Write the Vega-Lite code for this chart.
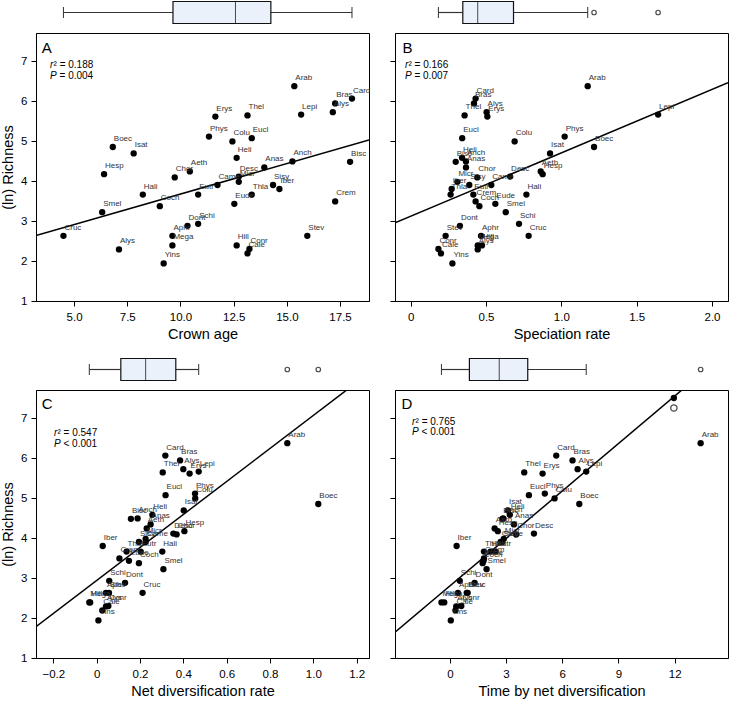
{
  "$schema": "https://vega.github.io/schema/vega-lite/v6.json",
  "padding": {"left": 0, "top": 0, "right": 0, "bottom": 0},
  "config": {
    "font": "Liberation Sans",
    "view": {"stroke": "#000", "strokeWidth": 1},
    "axis": {"grid": false, "domainColor": "#000", "tickColor": "#000", "tickSize": 5, "labelFontSize": 11.5, "labelColor": "#000", "titleFontSize": 14.5, "titleFontWeight": "normal", "titleColor": "#000", "labelPadding": 4},
    "axisX": {"labelPadding": 5, "titlePadding": 5},
    "axisY": {"titlePadding": 5}
  },
  "datasets": {
    "tribes": [
      {"tribe": "Arab", "richness": 6.37, "crown": 15.35, "spec": 1.175, "netdiv": 0.880, "tnd": 13.39},
      {"tribe": "Card", "richness": 6.06, "crown": 18.06, "spec": 0.431, "netdiv": 0.317, "tnd": 5.68},
      {"tribe": "Bras", "richness": 5.94, "crown": 17.27, "spec": 0.420, "netdiv": 0.385, "tnd": 6.55},
      {"tribe": "Alys", "richness": 5.72, "crown": 17.16, "spec": 0.504, "netdiv": 0.400, "tnd": 6.82},
      {"tribe": "Lepi", "richness": 5.66, "crown": 15.67, "spec": 1.642, "netdiv": 0.471, "tnd": 7.28},
      {"tribe": "Thel", "richness": 5.64, "crown": 13.15, "spec": 0.358, "netdiv": 0.305, "tnd": 3.97},
      {"tribe": "Erys", "richness": 5.61, "crown": 11.64, "spec": 0.509, "netdiv": 0.429, "tnd": 4.95},
      {"tribe": "Phys", "richness": 5.11, "crown": 11.34, "spec": 1.022, "netdiv": 0.454, "tnd": 5.07},
      {"tribe": "Eucl", "richness": 5.07, "crown": 13.35, "spec": 0.342, "netdiv": 0.318, "tnd": 4.22},
      {"tribe": "Colu", "richness": 4.99, "crown": 12.44, "spec": 0.690, "netdiv": 0.455, "tnd": 5.59},
      {"tribe": "Boec", "richness": 4.85, "crown": 6.82, "spec": 1.217, "netdiv": 1.023, "tnd": 6.91},
      {"tribe": "Isat", "richness": 4.69, "crown": 7.80, "spec": 0.925, "netdiv": 0.402, "tnd": 3.10},
      {"tribe": "Heli", "richness": 4.58, "crown": 12.64, "spec": 0.341, "netdiv": 0.257, "tnd": 3.20},
      {"tribe": "Anch", "richness": 4.49, "crown": 15.26, "spec": 0.367, "netdiv": 0.189, "tnd": 2.85},
      {"tribe": "Bisc", "richness": 4.48, "crown": 17.97, "spec": 0.299, "netdiv": 0.158, "tnd": 2.80},
      {"tribe": "Anas", "richness": 4.34, "crown": 13.94, "spec": 0.367, "netdiv": 0.249, "tnd": 3.42},
      {"tribe": "Aeth", "richness": 4.24, "crown": 10.44, "spec": 0.863, "netdiv": 0.231, "tnd": 2.39},
      {"tribe": "Hesp", "richness": 4.17, "crown": 6.41, "spec": 0.876, "netdiv": 0.405, "tnd": 2.56},
      {"tribe": "Desc", "richness": 4.11, "crown": 12.74, "spec": 0.660, "netdiv": 0.354, "tnd": 4.49},
      {"tribe": "Chor", "richness": 4.09, "crown": 9.73, "spec": 0.442, "netdiv": 0.369, "tnd": 3.54},
      {"tribe": "Micr", "richness": 3.98, "crown": 12.74, "spec": 0.310, "netdiv": 0.226, "tnd": 2.88},
      {"tribe": "Came", "richness": 3.90, "crown": 11.74, "spec": 0.535, "netdiv": 0.226, "tnd": 2.71},
      {"tribe": "Sisy", "richness": 3.90, "crown": 14.35, "spec": 0.389, "netdiv": 0.195, "tnd": 2.80},
      {"tribe": "Iber", "richness": 3.80, "crown": 14.65, "spec": 0.272, "netdiv": 0.028, "tnd": 0.36},
      {"tribe": "Hali", "richness": 3.66, "crown": 8.23, "spec": 0.768, "netdiv": 0.303, "tnd": 2.17},
      {"tribe": "Thla", "richness": 3.66, "crown": 13.35, "spec": 0.265, "netdiv": 0.138, "tnd": 1.82},
      {"tribe": "Eutr", "richness": 3.66, "crown": 10.83, "spec": 0.416, "netdiv": 0.203, "tnd": 2.44},
      {"tribe": "Crem", "richness": 3.49, "crown": 17.27, "spec": 0.431, "netdiv": 0.105, "tnd": 1.82},
      {"tribe": "Eude", "richness": 3.43, "crown": 12.53, "spec": 0.562, "netdiv": 0.149, "tnd": 1.80},
      {"tribe": "Coch", "richness": 3.37, "crown": 9.03, "spec": 0.456, "netdiv": 0.195, "tnd": 1.75},
      {"tribe": "Smel", "richness": 3.22, "crown": 6.32, "spec": 0.631, "netdiv": 0.308, "tnd": 1.96},
      {"tribe": "Schi", "richness": 2.93, "crown": 10.83, "spec": 0.719, "netdiv": 0.058, "tnd": 0.53},
      {"tribe": "Dont", "richness": 2.88, "crown": 10.33, "spec": 0.327, "netdiv": 0.131, "tnd": 1.32},
      {"tribe": "Aphr", "richness": 2.63, "crown": 9.62, "spec": 0.467, "netdiv": 0.043, "tnd": 0.43},
      {"tribe": "Stev", "richness": 2.63, "crown": 15.96, "spec": 0.232, "netdiv": 0.057, "tnd": 0.90},
      {"tribe": "Cruc", "richness": 2.63, "crown": 4.50, "spec": 0.783, "netdiv": 0.212, "tnd": 0.95},
      {"tribe": "Mega", "richness": 2.39, "crown": 9.62, "spec": 0.445, "netdiv": -0.034, "tnd": -0.45},
      {"tribe": "Hill", "richness": 2.39, "crown": 12.64, "spec": 0.473, "netdiv": -0.030, "tnd": -0.30},
      {"tribe": "Conr", "richness": 2.30, "crown": 13.24, "spec": 0.184, "netdiv": 0.054, "tnd": 0.61},
      {"tribe": "Alys", "richness": 2.29, "crown": 7.11, "spec": 0.445, "netdiv": 0.043, "tnd": 0.34},
      {"tribe": "Cale", "richness": 2.19, "crown": 13.15, "spec": 0.201, "netdiv": 0.026, "tnd": 0.30},
      {"tribe": "Yins", "richness": 1.94, "crown": 9.21, "spec": 0.277, "netdiv": 0.008, "tnd": 0.05}
    ]
  },
  "spacing": 18,
  "hconcat": [
    {
      "spacing": 15,
      "vconcat": [
        {
          "spacing": 9, "bounds": "flush",
          "vconcat": [
            {
              "width": 333, "height": 23, "view": {"stroke": null},
              "data": {"name": "tribes"},
              "mark": {"type": "boxplot", "extent": 1.5, "size": 22, "color": "#eaf1fb", "box": {"stroke": "#111", "strokeWidth": 1.2}, "median": {"color": "#000", "strokeWidth": 2}, "rule": {"color": "#333", "strokeWidth": 1.2}, "ticks": {"color": "#333", "size": 11, "strokeWidth": 1.2}, "outliers": {"filled": false, "color": "#000", "size": 20, "strokeWidth": 1.2}},
              "encoding": {"x": {"field": "crown", "type": "quantitative", "scale": {"domain": [3.21, 18.86], "nice": false, "zero": false}, "axis": null}}
            },
            {
              "width": 333, "height": 268,
              "data": {"name": "tribes"},
              "encoding": {
                "x": {"field": "crown", "type": "quantitative", "title": "Crown age", "scale": {"domain": [3.21, 18.86], "nice": false, "zero": false}, "axis": {"values": [5, 7.5, 10, 12.5, 15, 17.5], "format": ".1f"}},
                "y": {"field": "richness", "type": "quantitative", "title": "(ln) Richness", "scale": {"domain": [1, 7.7], "nice": false, "zero": false}, "axis": {"values": [1, 2, 3, 4, 5, 6, 7], "format": "d"}}
              },
              "layer": [
                {"transform": [{"regression": "richness", "on": "crown", "extent": [3.21, 18.86]}], "mark": {"type": "line", "color": "#000", "strokeWidth": 1.5, "clip": true}},
                {"mark": {"type": "circle", "size": 40, "color": "#000", "opacity": 1}},
                {"mark": {"type": "text", "align": "left", "baseline": "middle", "dx": 1, "dy": -8, "fontSize": 8, "color": "#333"}, "encoding": {"text": {"field": "tribe"}}},
                {"data": {"values": [{"crown": 3.48, "richness": 7.33}]}, "mark": {"type": "text", "text": "A", "fontSize": 15, "align": "left", "baseline": "middle", "color": "#000"}},
                {"data": {"values": [{"crown": 3.87, "richness": 6.91}]}, "mark": {"type": "text", "text": "r", "fontStyle": "italic", "fontSize": 10, "align": "left", "baseline": "middle", "color": "#000"}},
                {"data": {"values": [{"crown": 3.87, "richness": 6.91}]}, "mark": {"type": "text", "text": "² = 0.188", "fontSize": 10, "align": "left", "baseline": "middle", "dx": 3.5, "color": "#000"}},
                {"data": {"values": [{"crown": 3.87, "richness": 6.625}]}, "mark": {"type": "text", "text": "P", "fontStyle": "italic", "fontSize": 10, "align": "left", "baseline": "middle", "color": "#000"}},
                {"data": {"values": [{"crown": 3.87, "richness": 6.625}]}, "mark": {"type": "text", "text": "= 0.004", "fontSize": 10, "align": "left", "baseline": "middle", "dx": 9.5, "color": "#000"}}
              ]
            }
          ]
        },
        {
          "spacing": 9, "bounds": "flush",
          "vconcat": [
            {
              "width": 333, "height": 23, "view": {"stroke": null},
              "data": {"name": "tribes"},
              "mark": {"type": "boxplot", "extent": 1.5, "size": 22, "color": "#eaf1fb", "box": {"stroke": "#111", "strokeWidth": 1.2}, "median": {"color": "#000", "strokeWidth": 2}, "rule": {"color": "#333", "strokeWidth": 1.2}, "ticks": {"color": "#333", "size": 11, "strokeWidth": 1.2}, "outliers": {"filled": false, "color": "#000", "size": 20, "strokeWidth": 1.2}},
              "encoding": {"x": {"field": "netdiv", "type": "quantitative", "scale": {"domain": [-0.28, 1.257], "nice": false, "zero": false}, "axis": null}}
            },
            {
              "width": 333, "height": 268,
              "data": {"name": "tribes"},
              "encoding": {
                "x": {"field": "netdiv", "type": "quantitative", "title": "Net diversification rate", "scale": {"domain": [-0.28, 1.257], "nice": false, "zero": false}, "axis": {"values": [-0.2, 0, 0.2, 0.4, 0.6, 0.8, 1, 1.2], "labelExpr": "datum.value == 0 ? '0' : format(datum.value, '.1f')"}},
                "y": {"field": "richness", "type": "quantitative", "title": "(ln) Richness", "scale": {"domain": [1, 7.7], "nice": false, "zero": false}, "axis": {"values": [1, 2, 3, 4, 5, 6, 7], "format": "d"}}
              },
              "layer": [
                {"transform": [{"regression": "richness", "on": "netdiv", "extent": [-0.28, 1.257]}], "mark": {"type": "line", "color": "#000", "strokeWidth": 1.5, "clip": true}},
                {"mark": {"type": "circle", "size": 40, "color": "#000", "opacity": 1}},
                {"mark": {"type": "text", "align": "left", "baseline": "middle", "dx": 1, "dy": -8, "fontSize": 8, "color": "#333"}, "encoding": {"text": {"field": "tribe"}}},
                {"data": {"values": [{"netdiv": -0.254, "richness": 7.35}]}, "mark": {"type": "text", "text": "C", "fontSize": 15, "align": "left", "baseline": "middle", "color": "#000"}},
                {"data": {"values": [{"netdiv": -0.197, "richness": 6.625}]}, "mark": {"type": "text", "text": "r", "fontStyle": "italic", "fontSize": 10, "align": "left", "baseline": "middle", "color": "#000"}},
                {"data": {"values": [{"netdiv": -0.197, "richness": 6.625}]}, "mark": {"type": "text", "text": "² = 0.547", "fontSize": 10, "align": "left", "baseline": "middle", "dx": 3.5, "color": "#000"}},
                {"data": {"values": [{"netdiv": -0.197, "richness": 6.36}]}, "mark": {"type": "text", "text": "P", "fontStyle": "italic", "fontSize": 10, "align": "left", "baseline": "middle", "color": "#000"}},
                {"data": {"values": [{"netdiv": -0.197, "richness": 6.36}]}, "mark": {"type": "text", "text": "< 0.001", "fontSize": 10, "align": "left", "baseline": "middle", "dx": 9.5, "color": "#000"}}
              ]
            }
          ]
        }
      ]
    },
    {
      "spacing": 15,
      "vconcat": [
        {
          "spacing": 9, "bounds": "flush",
          "vconcat": [
            {
              "width": 333, "height": 23, "view": {"stroke": null},
              "data": {"name": "tribes"},
              "mark": {"type": "boxplot", "extent": 1.5, "size": 22, "color": "#eaf1fb", "box": {"stroke": "#111", "strokeWidth": 1.2}, "median": {"color": "#000", "strokeWidth": 2}, "rule": {"color": "#333", "strokeWidth": 1.2}, "ticks": {"color": "#333", "size": 11, "strokeWidth": 1.2}, "outliers": {"filled": false, "color": "#000", "size": 20, "strokeWidth": 1.2}},
              "encoding": {"x": {"field": "spec", "type": "quantitative", "scale": {"domain": [-0.104, 2.106], "nice": false, "zero": false}, "axis": null}}
            },
            {
              "width": 333, "height": 268,
              "data": {"name": "tribes"},
              "encoding": {
                "x": {"field": "spec", "type": "quantitative", "title": "Speciation rate", "scale": {"domain": [-0.104, 2.106], "nice": false, "zero": false}, "axis": {"values": [0, 0.5, 1, 1.5, 2], "labelExpr": "datum.value == 0 ? '0' : format(datum.value, '.1f')"}},
                "y": {"field": "richness", "type": "quantitative", "title": null, "scale": {"domain": [1, 7.7], "nice": false, "zero": false}, "axis": {"values": [1, 2, 3, 4, 5, 6, 7], "labels": false}}
              },
              "layer": [
                {"transform": [{"regression": "richness", "on": "spec", "extent": [-0.104, 2.106]}], "mark": {"type": "line", "color": "#000", "strokeWidth": 1.5, "clip": true}},
                {"mark": {"type": "circle", "size": 40, "color": "#000", "opacity": 1}},
                {"mark": {"type": "text", "align": "left", "baseline": "middle", "dx": 1, "dy": -8, "fontSize": 8, "color": "#333"}, "encoding": {"text": {"field": "tribe"}}},
                {"data": {"values": [{"spec": -0.055, "richness": 7.33}]}, "mark": {"type": "text", "text": "B", "fontSize": 15, "align": "left", "baseline": "middle", "color": "#000"}},
                {"data": {"values": [{"spec": -0.038, "richness": 6.91}]}, "mark": {"type": "text", "text": "r", "fontStyle": "italic", "fontSize": 10, "align": "left", "baseline": "middle", "color": "#000"}},
                {"data": {"values": [{"spec": -0.038, "richness": 6.91}]}, "mark": {"type": "text", "text": "² = 0.166", "fontSize": 10, "align": "left", "baseline": "middle", "dx": 3.5, "color": "#000"}},
                {"data": {"values": [{"spec": -0.038, "richness": 6.625}]}, "mark": {"type": "text", "text": "P", "fontStyle": "italic", "fontSize": 10, "align": "left", "baseline": "middle", "color": "#000"}},
                {"data": {"values": [{"spec": -0.038, "richness": 6.625}]}, "mark": {"type": "text", "text": "= 0.007", "fontSize": 10, "align": "left", "baseline": "middle", "dx": 9.5, "color": "#000"}}
              ]
            }
          ]
        },
        {
          "spacing": 9, "bounds": "flush",
          "vconcat": [
            {
              "width": 333, "height": 23, "view": {"stroke": null},
              "data": {"name": "tribes"},
              "mark": {"type": "boxplot", "extent": 1.5, "size": 22, "color": "#eaf1fb", "box": {"stroke": "#111", "strokeWidth": 1.2}, "median": {"color": "#000", "strokeWidth": 2}, "rule": {"color": "#333", "strokeWidth": 1.2}, "ticks": {"color": "#333", "size": 11, "strokeWidth": 1.2}, "outliers": {"filled": false, "color": "#000", "size": 20, "strokeWidth": 1.2}},
              "encoding": {"x": {"field": "tnd", "type": "quantitative", "scale": {"domain": [-2.93, 14.85], "nice": false, "zero": false}, "axis": null}}
            },
            {
              "width": 333, "height": 268,
              "data": {"name": "tribes"},
              "encoding": {
                "x": {"field": "tnd", "type": "quantitative", "title": "Time by net diversification", "scale": {"domain": [-2.93, 14.85], "nice": false, "zero": false}, "axis": {"values": [0, 3, 6, 9, 12], "format": "d"}},
                "y": {"field": "richness", "type": "quantitative", "title": null, "scale": {"domain": [1, 7.7], "nice": false, "zero": false}, "axis": {"values": [1, 2, 3, 4, 5, 6, 7], "labels": false}}
              },
              "layer": [
                {"transform": [{"regression": "richness", "on": "tnd", "extent": [-2.93, 14.85]}], "mark": {"type": "line", "color": "#000", "strokeWidth": 1.5, "clip": true}},
                {"mark": {"type": "circle", "size": 40, "color": "#000", "opacity": 1}},
                {"mark": {"type": "text", "align": "left", "baseline": "middle", "dx": 1, "dy": -8, "fontSize": 8, "color": "#333"}, "encoding": {"text": {"field": "tribe"}}},
                {"data": {"values": [{"tnd": 11.96, "richness": 7.5}]}, "mark": {"type": "circle", "size": 40, "color": "#000", "opacity": 1}},
                {"data": {"values": [{"tnd": 11.96, "richness": 7.25}]}, "mark": {"type": "point", "shape": "circle", "filled": false, "size": 40, "color": "#000", "strokeWidth": 1.3}},
                {"data": {"values": [{"tnd": -2.58, "richness": 7.35}]}, "mark": {"type": "text", "text": "D", "fontSize": 15, "align": "left", "baseline": "middle", "color": "#000"}},
                {"data": {"values": [{"tnd": -2.02, "richness": 6.9}]}, "mark": {"type": "text", "text": "r", "fontStyle": "italic", "fontSize": 10, "align": "left", "baseline": "middle", "color": "#000"}},
                {"data": {"values": [{"tnd": -2.02, "richness": 6.9}]}, "mark": {"type": "text", "text": "² = 0.765", "fontSize": 10, "align": "left", "baseline": "middle", "dx": 3.5, "color": "#000"}},
                {"data": {"values": [{"tnd": -2.02, "richness": 6.65}]}, "mark": {"type": "text", "text": "P", "fontStyle": "italic", "fontSize": 10, "align": "left", "baseline": "middle", "color": "#000"}},
                {"data": {"values": [{"tnd": -2.02, "richness": 6.65}]}, "mark": {"type": "text", "text": "< 0.001", "fontSize": 10, "align": "left", "baseline": "middle", "dx": 9.5, "color": "#000"}}
              ]
            }
          ]
        }
      ]
    }
  ]
}
